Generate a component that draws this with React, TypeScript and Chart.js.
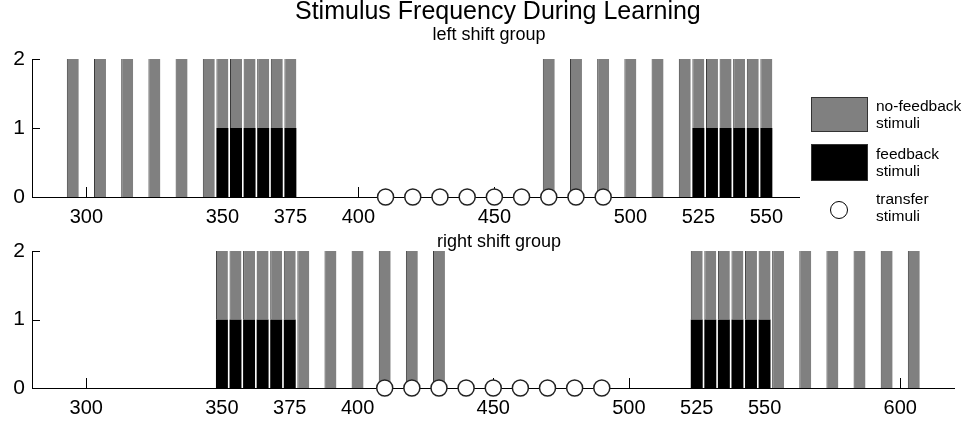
import React, { useEffect, useRef } from 'react';
import { Chart, registerables } from 'chart.js';

Chart.register(...registerables);

// ---- data ----
const leftNoFeedbackX = [295, 305, 315, 325, 335, 345, 350, 355, 360, 365, 370, 375, 470, 480, 490, 500, 510, 520, 525, 530, 535, 540, 545, 550];
const leftNoFeedbackY = [2, 2, 2, 2, 2, 2, 1, 1, 1, 1, 1, 1, 2, 2, 2, 2, 2, 2, 1, 1, 1, 1, 1, 1];
const leftFeedbackX = [350, 355, 360, 365, 370, 375, 525, 530, 535, 540, 545, 550];
const leftFeedbackY = [1, 1, 1, 1, 1, 1, 1, 1, 1, 1, 1, 1];

const rightNoFeedbackX = [350, 355, 360, 365, 370, 375, 380, 390, 400, 410, 420, 430, 525, 530, 535, 540, 545, 550, 555, 565, 575, 585, 595, 605];
const rightNoFeedbackY = [1, 1, 1, 1, 1, 1, 2, 2, 2, 2, 2, 2, 1, 1, 1, 1, 1, 1, 2, 2, 2, 2, 2, 2];
const rightFeedbackX = [350, 355, 360, 365, 370, 375, 525, 530, 535, 540, 545, 550];
const rightFeedbackY = [1, 1, 1, 1, 1, 1, 1, 1, 1, 1, 1, 1];

const transferX = [410, 420, 430, 440, 450, 460, 470, 480, 490];
const transferY = [0, 0, 0, 0, 0, 0, 0, 0, 0];

const leftTicks = [300, 350, 375, 400, 450, 500, 525, 550];
const rightTicks = [300, 350, 375, 400, 450, 500, 525, 550, 600];
const yTicks = [0, 1, 2];

const FONT = '"Liberation Sans", Arial, Helvetica, sans-serif';

const zip = (xs: number[], ys: number[]) => xs.map((x, i) => ({ x, y: ys[i] }));

const inwardTicks = {
  id: 'inwardTicks',
  beforeDatasetsDraw(chart: any) {
    const ctx = chart.ctx;
    const xs = chart.scales.x;
    const ys = chart.scales.y;
    ctx.save();
    ctx.strokeStyle = '#000';
    ctx.lineWidth = 1;
    ctx.beginPath();
    xs.ticks.forEach((t: any) => {
      const px = Math.round(xs.getPixelForValue(t.value)) + 0.5;
      ctx.moveTo(px, ys.bottom);
      ctx.lineTo(px, ys.bottom - 10);
    });
    ys.ticks.forEach((t: any) => {
      const py = Math.round(ys.getPixelForValue(t.value)) + 0.5;
      ctx.moveTo(xs.left, py);
      ctx.lineTo(xs.left + 8, py);
    });
    ctx.stroke();
    ctx.restore();
  },
};

type PanelProps = {
  top: number;
  height: number;
  areaTop: number;
  areaBottom: number;
  areaLeft: number;
  areaRight: number;
  xMin: number;
  xMax: number;
  ticks: number[];
  noFbX: number[];
  noFbY: number[];
  fbX: number[];
  fbY: number[];
};

function Panel(p: PanelProps) {
  const ref = useRef<HTMLCanvasElement | null>(null);
  useEffect(() => {
    if (!ref.current) return;
    const chart = new Chart(ref.current, {
      type: 'bar',
      data: {
        datasets: [
          {
            type: 'scatter',
            label: 'transfer stimuli',
            data: zip(transferX, transferY),
            pointRadius: 8,
            pointHoverRadius: 8,
            pointBorderWidth: 1.5,
            borderColor: '#222',
            backgroundColor: '#fff',
            pointBackgroundColor: '#fff',
            pointBorderColor: '#222',
            showLine: false,
            clip: false,
            stack: 'transfer',
            order: 0,
          } as any,
          {
            type: 'bar',
            label: 'feedback stimuli',
            data: zip(p.fbX, p.fbY),
            backgroundColor: '#000',
            borderWidth: 0,
            barPercentage: 0.88,
            categoryPercentage: 1,
            stack: 'stim',
            order: 1,
          } as any,
          {
            type: 'bar',
            label: 'no-feedback stimuli',
            data: zip(p.noFbX, p.noFbY),
            backgroundColor: '#808080',
            borderColor: '#3a3a3a',
            borderWidth: { left: 1, right: 0, top: 0, bottom: 0 },
            borderSkipped: false,
            barPercentage: 0.88,
            categoryPercentage: 1,
            stack: 'stim',
            order: 2,
          } as any,
        ],
      },
      options: {
        responsive: false,
        animation: false,
        devicePixelRatio: 1,
        layout: {
          padding: {
            left: 0,
            top: p.areaTop,
            right: 964 - p.areaRight,
            bottom: 0,
          },
        },
        plugins: {
          legend: { display: false },
          tooltip: { enabled: false },
          title: { display: false },
        },
        scales: {
          x: {
            type: 'linear',
            min: p.xMin,
            max: p.xMax,
            stacked: true,
            offset: false,
            grid: { display: false, offset: false, drawTicks: false },
            border: { display: true, color: '#000', width: 1 },
            ticks: {
              autoSkip: false,
              maxRotation: 0,
              minRotation: 0,
              padding: 8,
              color: '#000',
              font: { family: FONT, size: 20 },
            },
            afterBuildTicks: (axis: any) => {
              axis.ticks = p.ticks.map((v) => ({ value: v }));
            },
            afterFit: (axis: any) => {
              axis.height = p.height - p.areaBottom;
            },
          },
          y: {
            type: 'linear',
            min: 0,
            max: 2,
            stacked: true,
            grid: { display: false, drawTicks: false },
            border: { display: true, color: '#000', width: 1 },
            ticks: {
              padding: 7,
              color: '#000',
              font: { family: FONT, size: 21 },
            },
            afterBuildTicks: (axis: any) => {
              axis.ticks = yTicks.map((v) => ({ value: v }));
            },
            afterFit: (axis: any) => {
              axis.width = p.areaLeft;
            },
          },
        },
      } as any,
      plugins: [inwardTicks],
    });
    return () => chart.destroy();
  }, []);
  return (
    <canvas
      ref={ref}
      width={964}
      height={p.height}
      style={{ position: 'absolute', left: 0, top: p.top, width: 964, height: p.height }}
    />
  );
}

const textStyle: React.CSSProperties = {
  position: 'absolute',
  fontFamily: FONT,
  color: '#000',
  whiteSpace: 'nowrap',
};

export default function App() {
  return (
    <div style={{ position: 'absolute', left: 0, top: 0, width: 964, height: 427, background: '#fff', overflow: 'hidden' }}>
      <Panel
        top={0}
        height={230}
        areaTop={59}
        areaBottom={197}
        areaLeft={32}
        areaRight={799}
        xMin={280}
        xMax={562}
        ticks={leftTicks}
        noFbX={leftNoFeedbackX}
        noFbY={leftNoFeedbackY}
        fbX={leftFeedbackX}
        fbY={leftFeedbackY}
      />
      <Panel
        top={215}
        height={212}
        areaTop={36}
        areaBottom={173}
        areaLeft={32}
        areaRight={957}
        xMin={280}
        xMax={620}
        ticks={rightTicks}
        noFbX={rightNoFeedbackX}
        noFbY={rightNoFeedbackY}
        fbX={rightFeedbackX}
        fbY={rightFeedbackY}
      />
      <div style={{ ...textStyle, left: 295, width: 400, top: -2, fontSize: 25, lineHeight: '25px', textAlign: 'center' }}>
        Stimulus Frequency During Learning
      </div>
      <div style={{ ...textStyle, left: 389, width: 200, top: 25, fontSize: 18, lineHeight: '18px', textAlign: 'center' }}>
        left shift group
      </div>
      <div style={{ ...textStyle, left: 399, width: 200, top: 232, fontSize: 18, lineHeight: '18px', textAlign: 'center' }}>
        right shift group
      </div>
      {/* legend */}
      <div style={{ position: 'absolute', left: 811, top: 97, width: 57, height: 35, background: '#808080', border: '1px solid #333', boxSizing: 'border-box' }} />
      <div style={{ position: 'absolute', left: 811, top: 144, width: 57, height: 37, background: '#000', border: '1px solid #333', boxSizing: 'border-box' }} />
      <div style={{ position: 'absolute', left: 830, top: 201, width: 18, height: 18, borderRadius: '50%', border: '1px solid #000', background: '#fff', boxSizing: 'border-box' }} />
      <div style={{ ...textStyle, left: 876, top: 98, fontSize: 15.5, lineHeight: '16.7px' }}>
        no-feedback<br />stimuli
      </div>
      <div style={{ ...textStyle, left: 876, top: 146, fontSize: 15.5, lineHeight: '16.7px' }}>
        feedback<br />stimuli
      </div>
      <div style={{ ...textStyle, left: 876, top: 191, fontSize: 15.5, lineHeight: '16.7px' }}>
        transfer<br />stimuli
      </div>
    </div>
  );
}
